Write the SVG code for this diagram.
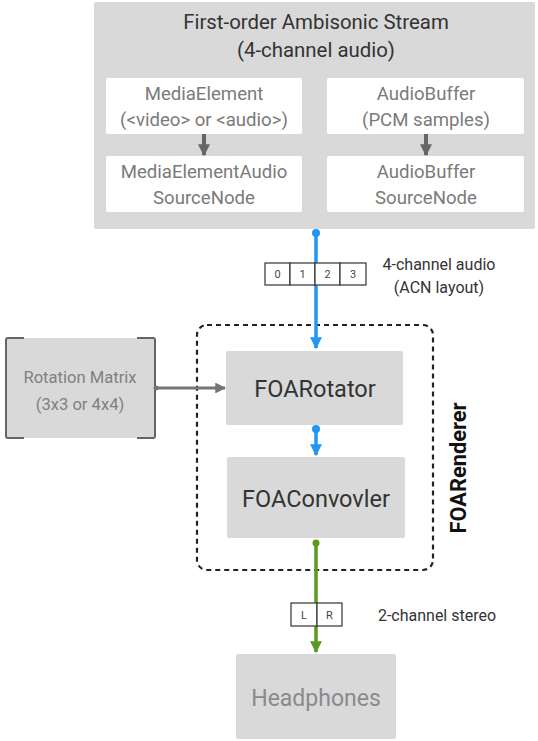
<svg xmlns="http://www.w3.org/2000/svg" width="538" height="741" viewBox="0 0 538 741">
  <defs>
    <style>
      text { font-family: Roboto, "Liberation Sans", sans-serif; text-anchor: middle; }
      .panel { fill: #d9d9d9; }
      .card { fill: #ffffff; rx: 2; }
      .title { font-size: 20.4px; fill: #333333; }
      .sub { font-size: 18.6px; fill: #7a7a7a; }
      .node { font-size: 23.5px; fill: #333333; }
      .note { font-size: 16px; fill: #333333; }
      .cell { fill: #ffffff; stroke: #333333; stroke-width: 1.2; }
      .cellt { font-size: 11px; fill: #444444; }
      .blue { stroke: #2196f3; stroke-width: 3.5; fill: none; }
      .green { stroke: #5b9a1f; stroke-width: 3.5; fill: none; }
      .grey { stroke: #757575; stroke-width: 3; fill: none; }
    </style>
    <marker id="ah-blue" viewBox="0 0 10 10" refX="9" refY="5" markerWidth="3.4" markerHeight="3.4" orient="auto" markerUnits="strokeWidth">
      <path d="M0,0 L10,5 L0,10 z" fill="#2196f3"/>
    </marker>
    <marker id="ah-green" viewBox="0 0 10 10" refX="9" refY="5" markerWidth="3.4" markerHeight="3.4" orient="auto" markerUnits="strokeWidth">
      <path d="M0,0 L10,5 L0,10 z" fill="#5b9a1f"/>
    </marker>
    <marker id="ah-grey" viewBox="0 0 10 10" refX="9" refY="5" markerWidth="3.6" markerHeight="3.6" orient="auto" markerUnits="strokeWidth">
      <path d="M0,0 L10,5 L0,10 z" fill="#757575"/>
    </marker>
    <marker id="ah-dark" viewBox="0 0 10 10" refX="9" refY="5" markerWidth="3" markerHeight="3" orient="auto" markerUnits="strokeWidth">
      <path d="M0,0 L10,5 L0,10 z" fill="#666666"/>
    </marker>
  </defs>

  <rect width="538" height="741" fill="#ffffff"/>

  <!-- stream source panel -->
  <g id="stream">
    <rect class="panel" x="94" y="2" width="441" height="227" rx="2"/>
    <text class="title" x="316" y="29">First-order Ambisonic Stream</text>
    <text class="title" x="316" y="57">(4-channel audio)</text>
  </g>
  <g id="media-element">
    <rect class="card" x="106" y="78" width="196" height="56"/>
    <text class="sub" x="204" y="100">MediaElement</text>
    <text class="sub" x="204" y="126">(&lt;video&gt; or &lt;audio&gt;)</text>
  </g>
  <g id="media-element-source">
    <rect class="card" x="106" y="156" width="196" height="56"/>
    <text class="sub" x="204" y="178">MediaElementAudio</text>
    <text class="sub" x="204" y="204">SourceNode</text>
  </g>
  <g id="audio-buffer">
    <rect class="card" x="327" y="78" width="197" height="56"/>
    <text class="sub" x="426" y="100">AudioBuffer</text>
    <text class="sub" x="426" y="126">(PCM samples)</text>
  </g>
  <g id="audio-buffer-source">
    <rect class="card" x="327" y="156" width="197" height="56"/>
    <text class="sub" x="426" y="178">AudioBuffer</text>
    <text class="sub" x="426" y="204">SourceNode</text>
  </g>

  <!-- renderer group outline -->
  <g id="foa-renderer">
    <rect x="197" y="325" width="236" height="245" rx="10" fill="none" stroke="#222222" stroke-width="2.2" stroke-dasharray="5 4"/>
    <text x="466" y="468" transform="rotate(-90 466 468)" font-size="21.8" font-weight="bold" fill="#111111">FOARenderer</text>
  </g>

  <g id="rotation-matrix">
    <rect class="panel" x="6" y="338" width="149" height="100" rx="2"/>
    <path d="M24,338 H8 Q6,338 6,340 V436 Q6,438 8,438 H24 M137,338 H153 Q155,338 155,340 V436 Q155,438 153,438 H137" fill="none" stroke="#666666" stroke-width="2"/>
    <text x="80" y="383" font-size="16.6" fill="#808080">Rotation Matrix</text>
    <text x="80" y="410" font-size="16.6" fill="#808080">(3x3 or 4x4)</text>
  </g>

  <g id="foa-rotator">
    <rect class="panel" x="226" y="351" width="177" height="74" rx="2"/>
    <text class="node" x="315" y="397">FOARotator</text>
  </g>

  <g id="foa-convolver">
    <rect class="panel" x="227" y="457" width="178" height="81" rx="2"/>
    <text class="node" x="316" y="507">FOAConvovler</text>
  </g>

  <g id="headphones">
    <rect class="panel" x="236" y="654" width="160" height="85" rx="2"/>
    <text x="316" y="706" font-size="23" fill="#8a8a8a">Headphones</text>
  </g>

  <!-- connectors -->
  <g id="connectors">
    <line x1="204" y1="134" x2="204" y2="155" stroke="#666666" stroke-width="4" marker-end="url(#ah-dark)"/>
    <line x1="426" y1="134" x2="426" y2="155" stroke="#666666" stroke-width="4" marker-end="url(#ah-dark)"/>

    <circle cx="316" cy="233" r="4" fill="#2196f3"/>
    <line class="blue" x1="316" y1="233" x2="316" y2="348" marker-end="url(#ah-blue)"/>

    <circle cx="316" cy="429" r="4" fill="#2196f3"/>
    <line class="blue" x1="316" y1="429" x2="316" y2="455" marker-end="url(#ah-blue)"/>

    <circle cx="316" cy="543" r="3.5" fill="#5b9a1f"/>
    <line class="green" x1="316" y1="543" x2="316" y2="652" marker-end="url(#ah-green)"/>

    <circle cx="156" cy="388" r="2.5" fill="#757575"/>
    <line class="grey" x1="155" y1="388" x2="225" y2="388" marker-end="url(#ah-grey)"/>
  </g>

  <!-- channel layout labels -->
  <g id="acn-channels">
    <rect class="cell" x="265" y="263" width="25" height="22"/>
    <rect class="cell" x="290" y="263" width="25" height="22"/>
    <rect class="cell" x="315" y="263" width="25" height="22"/>
    <rect class="cell" x="340" y="263" width="26" height="22"/>
    <text class="cellt" x="277.5" y="278">0</text>
    <text class="cellt" x="302.5" y="278">1</text>
    <text class="cellt" x="327.5" y="278">2</text>
    <text class="cellt" x="353" y="278">3</text>
    <text class="note" x="439" y="270">4-channel audio</text>
    <text class="note" x="439" y="293">(ACN layout)</text>
  </g>

  <g id="stereo-channels">
    <rect class="cell" x="291" y="603" width="26" height="23"/>
    <rect class="cell" x="317" y="603" width="25" height="23"/>
    <text class="cellt" x="304" y="619">L</text>
    <text class="cellt" x="329.5" y="619">R</text>
    <text class="note" x="437" y="621">2-channel stereo</text>
  </g>
</svg>
